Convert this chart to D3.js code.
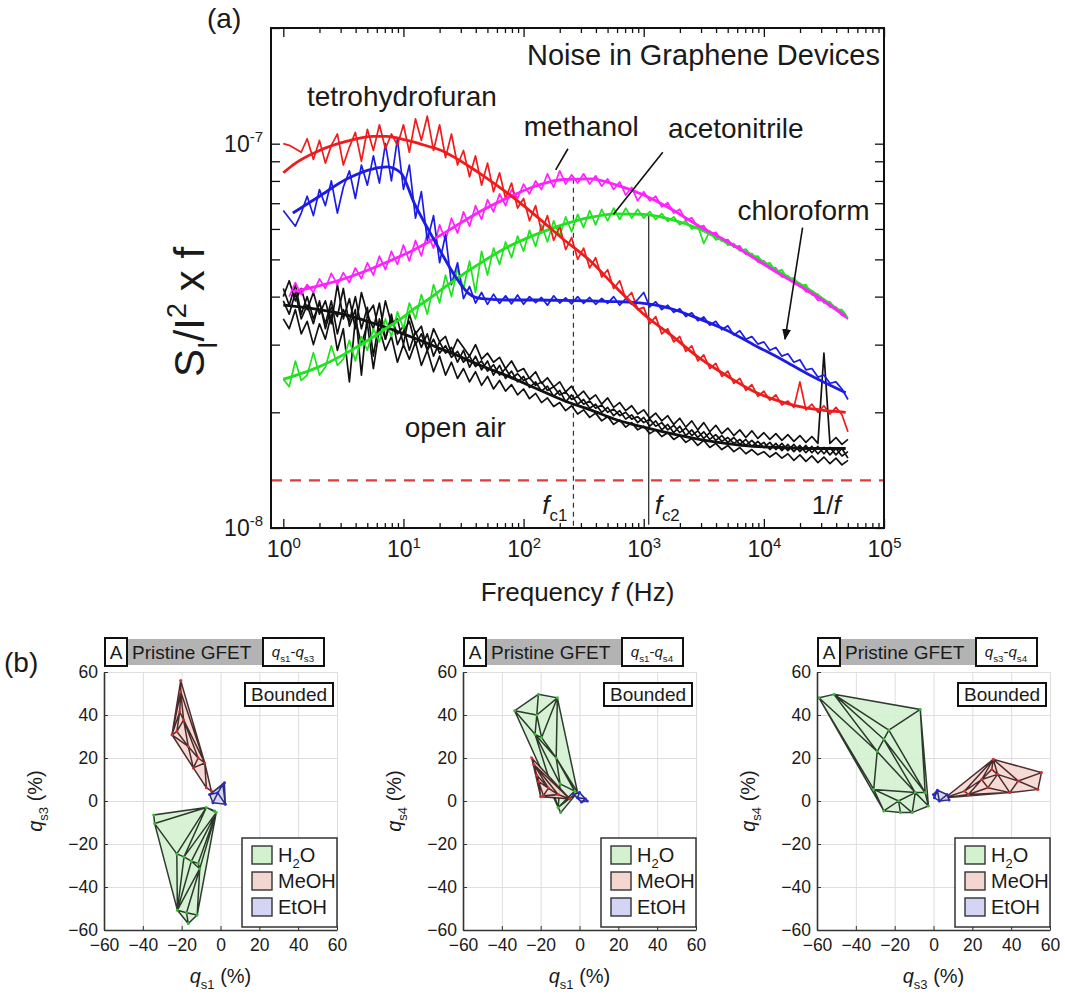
<!DOCTYPE html>
<html>
<head>
<meta charset="utf-8">
<script src="https://d3js.org/d3.v7.min.js"></script>
<style>
  body { margin: 0; background: #fff; }
  svg text { font-family: "Liberation Sans", Arial, sans-serif; fill: #1a1a1a; }
</style>
</head>
<body>
<script>
// ---------- panel (a): noise spectra, values in units of 1e-8 ----------
var freq = [1,1.12,1.26,1.41,1.58,1.78,2,2.24,2.51,2.82,3.16,3.55,3.98,4.47,5.01,5.62,6.31,7.08,7.94,8.91,
  10,11.2,12.6,14.1,15.8,17.8,20,22.4,25.1,28.2,31.6,35.5,39.8,44.7,50.1,56.2,63.1,70.8,79.4,89.1,
  100,112,126,141,158,178,200,224,251,282,316,355,398,447,501,562,631,708,794,891,
  1000,1122,1259,1413,1585,1778,1995,2239,2512,2818,3162,3548,3981,4467,5012,5623,6310,7079,7943,8913,
  10000,11220,12589,14125,15849,17783,19953,22387,25119,28184,31623,35481,39811,44668,50119];

var thf = [10.0,9.9,9.7,9.5,10.3,9.1,10.2,8.9,9.9,10.6,8.8,9.8,10.7,9.0,10.9,9.6,11.2,9.7,10.6,9.9,
  11.2,9.5,11.6,10.2,11.8,9.6,11.2,9.2,10.6,8.8,9.6,8.2,9.3,7.8,8.9,7.5,8.4,7.2,7.9,6.8,
  7.2,6.3,6.9,5.9,6.5,5.6,6.1,5.3,5.7,5.0,5.35,4.75,5.05,4.5,4.7,4.2,4.4,3.95,4.1,3.7,
  3.75,3.4,3.55,3.2,3.3,3.05,3.15,2.88,2.98,2.72,2.82,2.6,2.68,2.48,2.56,2.38,2.45,2.28,2.36,2.2,
  2.27,2.15,2.22,2.09,2.14,2.06,2.4,2.03,2.1,2.0,2.08,1.98,2.06,1.97,1.78];

var chloroform = [6.7,6.4,6.1,6.6,7.3,6.5,7.6,6.9,8.0,6.6,7.7,8.5,7.2,8.8,7.8,9.3,7.9,10.0,8.0,10.3,
  7.6,8.8,6.4,7.5,5.6,6.5,4.9,5.8,4.3,4.9,3.95,4.25,3.85,4.1,3.82,4.06,3.84,4.02,3.83,4.04,
  3.82,4.0,3.86,3.98,3.8,4.02,3.85,3.97,3.83,4.0,3.84,3.98,3.82,3.96,3.84,4.0,3.8,3.95,3.82,3.93,
  4.1,3.76,3.88,3.7,3.8,3.64,3.72,3.55,3.63,3.46,3.54,3.37,3.45,3.28,3.36,3.18,3.26,3.1,3.15,3.01,
  3.05,2.9,2.95,2.8,2.84,2.7,2.74,2.58,2.6,2.47,2.5,2.38,2.4,2.3,2.16];

var methanol = [null,4.0,4.35,4.05,4.3,4.1,4.45,4.2,4.6,4.3,4.62,4.35,4.75,4.45,4.9,4.55,5.1,4.7,5.25,4.85,
  5.45,4.95,5.6,5.1,5.85,5.35,6.15,5.6,6.4,5.85,6.65,6.1,6.9,6.35,7.15,6.65,7.4,6.9,7.6,7.2,
  7.85,7.4,8.0,7.6,8.35,7.7,8.5,7.85,8.3,7.9,8.35,7.85,8.25,7.75,8.1,7.6,7.95,7.35,7.7,7.1,
  7.5,7.1,7.3,6.85,7.02,6.6,6.75,6.32,6.42,6.05,6.12,5.8,5.88,5.58,5.63,5.38,5.42,5.15,5.18,4.92,
  4.96,4.74,4.75,4.5,4.53,4.33,4.33,4.12,4.1,3.91,3.92,3.76,3.76,3.58,3.5];

var acetonitrile = [2.44,2.33,2.72,2.42,2.5,2.86,2.5,2.62,2.98,2.65,2.75,3.08,2.72,3.15,2.9,3.3,3.05,3.5,3.15,3.65,
  3.3,3.85,3.5,4.05,3.6,4.3,3.85,4.55,4.0,4.75,4.2,4.95,4.1,5.25,4.55,5.35,4.85,5.55,5.05,5.75,
  5.25,5.95,5.4,6.15,5.55,6.3,5.75,6.45,5.9,6.55,6.05,6.7,6.15,6.75,6.3,6.8,6.35,6.8,6.4,6.75,
  6.4,6.66,6.35,6.58,6.28,6.45,6.15,6.3,6.0,6.12,5.5,5.92,5.62,5.7,5.44,5.5,5.26,5.32,5.08,5.1,
  4.85,4.9,4.64,4.7,4.44,4.48,4.24,4.3,4.04,4.06,3.85,3.88,3.7,3.7,3.52];

var airA = [4.0,4.4,3.9,4.2,3.7,4.1,3.6,3.9,3.4,4.3,3.5,3.95,3.3,4.1,3.6,3.8,3.2,3.9,3.4,3.5,
  3.0,3.6,3.2,3.35,2.9,3.3,3.05,3.15,2.85,3.1,2.95,2.8,3.0,2.75,2.85,2.7,2.78,2.6,2.72,2.55,
  2.6,2.45,2.55,2.38,2.46,2.33,2.4,2.26,2.34,2.2,2.27,2.16,2.22,2.1,2.18,2.06,2.12,2.02,2.08,1.98,
  2.03,1.93,1.99,1.9,1.96,1.86,1.93,1.83,1.9,1.8,1.88,1.78,1.85,1.76,1.82,1.74,1.8,1.72,1.79,1.71,
  1.77,1.7,1.76,1.69,1.75,1.68,1.74,1.67,1.73,1.66,2.85,1.66,1.72,1.65,1.7];
var airB = [3.9,3.6,4.1,3.5,3.8,3.4,3.9,3.3,3.75,3.55,4.2,3.35,3.7,2.5,3.6,3.3,3.85,3.1,3.5,3.2,
  3.35,2.9,3.25,2.95,3.2,2.8,3.05,2.85,2.95,2.7,2.9,2.62,2.8,2.58,2.72,2.5,2.65,2.45,2.56,2.4,
  2.48,2.32,2.4,2.27,2.34,2.2,2.28,2.13,2.22,2.1,2.16,2.05,2.1,2.0,2.06,1.96,2.02,1.92,1.97,1.88,
  1.94,1.84,1.9,1.8,1.86,1.77,1.84,1.74,1.8,1.72,1.78,1.7,1.75,1.68,1.72,1.66,1.7,1.64,1.69,1.63,
  1.67,1.6,1.66,1.59,1.65,1.58,1.64,1.57,1.63,1.56,1.62,1.55,1.61,1.54,1.58];
var airC = [3.5,3.3,3.7,3.2,3.45,3.0,3.4,3.1,3.6,2.9,3.3,2.4,3.5,3.0,3.4,2.6,3.3,2.9,3.15,2.7,
  3.0,2.75,3.05,2.65,2.9,2.55,2.8,2.5,2.7,2.45,2.6,2.4,2.55,2.35,2.48,2.3,2.42,2.27,2.36,2.22,
  2.3,2.17,2.24,2.12,2.18,2.07,2.12,2.02,2.08,1.98,2.03,1.94,1.99,1.9,1.95,1.86,1.91,1.83,1.88,1.8,
  1.84,1.76,1.8,1.73,1.77,1.7,1.74,1.67,1.71,1.64,1.69,1.62,1.66,1.6,1.64,1.58,1.62,1.56,1.6,1.55,
  1.58,1.53,1.57,1.52,1.56,1.5,1.55,1.49,1.54,1.48,1.53,1.47,1.52,1.46,1.5];
var airD = [4.2,3.8,4.3,3.6,4.0,3.5,3.85,3.4,3.9,3.2,3.7,3.45,4.0,3.3,3.75,2.8,3.5,3.1,3.6,3.0,
  3.25,3.45,3.0,3.2,2.9,3.1,2.85,2.98,2.78,2.88,2.7,2.8,2.63,2.72,2.56,2.66,2.5,2.6,2.45,2.52,
  2.42,2.46,2.35,2.4,2.28,2.33,2.22,2.26,2.16,2.2,2.1,2.14,2.05,2.09,2.0,2.04,1.96,2.0,1.92,1.95,
  1.88,1.92,1.84,1.88,1.8,1.85,1.77,1.82,1.74,1.79,1.71,1.77,1.69,1.74,1.67,1.72,1.65,1.7,1.63,1.68,
  1.62,1.67,1.6,1.66,1.59,1.65,1.58,1.64,1.57,1.63,1.56,1.62,1.55,1.61,1.52];

// fitted curves
var fitFreq = [1,1.2,2,3.4,5.6,7.3,9.5,12.3,16,20.7,26.8,34.8,45,75,126,213,360,600,1000,1700,2900,4800,8200,14000,23000,39000,48000];
var thfFit = [8.4,8.8,9.6,10.15,10.45,10.45,10.3,10.1,9.85,9.6,9.2,8.75,8.3,7.4,6.5,5.65,4.95,4.2,3.6,3.17,2.77,2.5,2.27,2.13,2.05,2.01,2.0];
var chloroformFit = [null,6.6,7.3,8.1,8.6,8.7,8.4,7.0,6.0,5.2,4.53,4.08,3.95,3.92,3.92,3.91,3.9,3.88,3.84,3.72,3.5,3.28,3.0,2.75,2.52,2.32,2.25];
var methanolFit = [null,4.12,4.27,4.48,4.75,4.92,5.1,5.3,5.54,5.8,6.09,6.4,6.7,7.25,7.76,8.07,8.1,7.8,7.35,6.75,6.1,5.6,5.05,4.55,4.15,3.72,3.55];
var acetonitrileFit = [2.44,2.48,2.63,2.86,3.14,3.32,3.5,3.72,3.93,4.17,4.42,4.67,4.92,5.4,5.8,6.16,6.43,6.57,6.55,6.35,6.0,5.55,5.1,4.6,4.2,3.75,3.58];
var airFit = [3.8,3.78,3.7,3.58,3.41,3.32,3.22,3.12,3.02,2.92,2.83,2.73,2.64,2.48,2.31,2.15,2.03,1.91,1.83,1.76,1.70,1.66,1.63,1.62,1.61,1.61,1.61];

var fc1 = 260, fc2 = 1100, floorLevel = 1.33;
var xMajor = [1, 10, 100, 1000, 10000, 100000];
var yMajor = [1, 10];

// ---------- panel (b): bounded PCA scores (%) ----------
var h2oS1S3 = [[-34.4,-6.5],[-33.9,-10.5],[-7.3,-3],[-3,-4.6],[-2.2,-5.4],[-22.5,-24.6],[-18.8,-26],[-11.5,-29],[-10.7,-31.5],[-22.2,-50.8],[-16.6,-57],[-12,-53],[-15,-28],[-17.5,-52]];
var meohS1S3 = [[-20.5,56],[-20.5,50.8],[-25,30.8],[-22.5,32.3],[-16.6,25.4],[-11.5,20],[-8.1,17.7],[-4.7,4.6],[-7.3,6.2],[-14,15.4],[-19,37.7],[-21,41.5]];
var etohS1S3 = [[-5.6,3],[1.2,7.7],[2,8.5],[2.5,-1.5],[-3.9,-0.8],[-1.4,3.8]];
var h2oS1S4 = [[-33.4,42],[-21.2,49.6],[-11.4,48],[-22.9,31],[-19.5,29.5],[-10,8],[-2.5,4.6],[-9.7,-5.4],[-11,-3],[-1,4],[-22,40],[-12,20]];
var meohS1S4 = [[-24.6,20],[-23.5,17],[-21,9],[-20,2],[-18.6,2.5],[-16,6],[-11,3],[-5,1],[-22,12]];
var etohS1S4 = [[-3,3],[0,4],[3,1],[4,0],[1,-0.5],[-1,1.5]];
var h2oS3S4 = [[-59,48],[-51.3,49.6],[-6.8,42.6],[-25.6,28.7],[-23,33],[-30.8,5.4],[-29,23],[-25.6,-4.6],[-17,-5.4],[-11,-5.4],[-4.3,3.9],[-2.6,-2.3],[-18,0],[-9.4,3.9]];
var meohS3S4 = [[6,1.5],[16,4.6],[18,3],[24.8,10],[30.8,19.4],[30,14.7],[39.3,3.9],[43.6,9.3],[55.6,13.2],[53.8,5.4],[33,12.4],[28,6.2]];
var etohS3S4 = [[0,3],[2,5],[7,3],[8,0.5],[3,0],[0.5,1.5]];
var qTicks = [-60, -40, -20, 0, 20, 40, 60];
var solvents = ["H2O", "MeOH", "EtOH"];

// ---------------------------------------------------------------
var svg = d3.select("body").append("svg").attr("width", 1065).attr("height", 995);

// text with italic / sub / sup pieces
function rich(t, parts, size) {
  var shift = 0;
  parts.forEach(function(p) {
    var target = p.k === "sub" ? 0.3 * size : p.k === "sup" ? -0.42 * size : 0;
    var ts = t.append("tspan").text(p.s);
    if (target - shift !== 0) ts.attr("dy", target - shift);
    if (p.k) ts.attr("font-size", 0.65 * size);
    if (p.i) ts.attr("font-style", "italic");
    shift = target;
  });
}

var box = {left: 271, right: 884, top: 28, bottom: 528};
var x = d3.scaleLog().domain([0.79, 1e5]).range([box.left, box.right]);
var y = d3.scaleLog().domain([1, 20]).range([box.bottom, box.top]);

var xMinor = [], yMinor = [];
[1, 10, 100, 1000, 10000].forEach(function(d) { for (var m = 2; m < 10; m++) xMinor.push(d * m); });
[1, 10].forEach(function(d) { for (var m = 2; m < 10; m++) if (d * m <= 20) yMinor.push(d * m); });

var defs = svg.append("defs");
defs.append("clipPath").attr("id", "clipA")
  .append("rect").attr("x", box.left).attr("y", box.top)
  .attr("width", box.right - box.left).attr("height", box.bottom - box.top);
defs.append("marker").attr("id", "arrow").attr("viewBox", "0 0 10 10").attr("refX", 9).attr("refY", 5)
  .attr("markerWidth", 7).attr("markerHeight", 7).attr("orient", "auto")
  .append("path").attr("d", "M0,1L10,5L0,9z").attr("fill", "#111");

var plot = svg.append("g").attr("clip-path", "url(#clipA)");

// red dashed floor
plot.append("line").attr("x1", box.left).attr("x2", box.right)
  .attr("y1", y(floorLevel)).attr("y2", y(floorLevel))
  .attr("stroke", "#e23a3a").attr("stroke-width", 2.2).attr("stroke-dasharray", "11,8");

// corner frequency markers
plot.append("line").attr("x1", x(fc1)).attr("x2", x(fc1)).attr("y1", y(8.1)).attr("y2", box.bottom)
  .attr("stroke", "#333").attr("stroke-width", 1.2).attr("stroke-dasharray", "5,4");
plot.append("line").attr("x1", x(fc2)).attr("x2", x(fc2)).attr("y1", y(6.55)).attr("y2", y(1.02))
  .attr("stroke", "#333").attr("stroke-width", 1.3);

var raw = d3.line().defined(function(d) { return d[1] != null; })
  .x(function(d) { return x(d[0]); }).y(function(d) { return y(d[1]); });
var smooth = d3.line().defined(function(d) { return d[1] != null; })
  .x(function(d) { return x(d[0]); }).y(function(d) { return y(d[1]); })
  .curve(d3.curveMonotoneX);

var spectra = [
  {vals: airA, c: "#111"}, {vals: airB, c: "#111"}, {vals: airC, c: "#111"}, {vals: airD, c: "#111"},
  {vals: acetonitrile, c: "#22e022"}, {vals: methanol, c: "#ff22ff"},
  {vals: chloroform, c: "#1c1ce6"}, {vals: thf, c: "#ee1c1c"}
];
spectra.forEach(function(s) {
  plot.append("path").datum(freq.map(function(f, i) { return [f, s.vals[i]]; }))
    .attr("d", raw).attr("fill", "none").attr("stroke", s.c).attr("stroke-width", 1.7)
    .attr("stroke-linejoin", "round");
});
var fits = [
  {vals: airFit, c: "#111"}, {vals: acetonitrileFit, c: "#22e022"}, {vals: methanolFit, c: "#ff22ff"},
  {vals: chloroformFit, c: "#1c1ce6"}, {vals: thfFit, c: "#ee1c1c"}
];
fits.forEach(function(s) {
  plot.append("path").datum(fitFreq.map(function(f, i) { return [f, s.vals[i]]; }))
    .attr("d", smooth).attr("fill", "none").attr("stroke", s.c).attr("stroke-width", 2.8);
});

// axes with inward ticks, MATLAB style
function major(sel) { sel.select(".domain").remove(); sel.selectAll("line").attr("stroke", "#111").attr("stroke-width", 1.3); }
svg.append("g").attr("transform", "translate(0," + box.bottom + ")")
  .call(d3.axisBottom(x).tickValues(xMajor).tickSize(-9).tickSizeOuter(0).tickPadding(13))
  .call(major)
  .selectAll(".tick text").attr("font-size", 23).attr("fill", "#1a1a1a")
  .each(function(d) { var t = d3.select(this).text(null); rich(t, [{s: "10"}, {s: String(Math.round(Math.log10(d))), k: "sup"}], 23); });
svg.append("g").attr("transform", "translate(0," + box.bottom + ")")
  .call(d3.axisBottom(x).tickValues(xMinor).tickSize(-5).tickSizeOuter(0).tickFormat("")).call(major);
svg.append("g").attr("transform", "translate(0," + box.top + ")")
  .call(d3.axisTop(x).tickValues(xMajor).tickSize(-9).tickSizeOuter(0).tickFormat("")).call(major);
svg.append("g").attr("transform", "translate(0," + box.top + ")")
  .call(d3.axisTop(x).tickValues(xMinor).tickSize(-5).tickSizeOuter(0).tickFormat("")).call(major);
svg.append("g").attr("transform", "translate(" + box.left + ",0)")
  .call(d3.axisLeft(y).tickValues(yMajor).tickSize(-9).tickSizeOuter(0).tickPadding(8))
  .call(major)
  .selectAll(".tick text").attr("font-size", 23).attr("fill", "#1a1a1a")
  .each(function(d) { var t = d3.select(this).text(null); rich(t, [{s: "10"}, {s: String(Math.round(Math.log10(d)) - 8), k: "sup"}], 23); });
svg.append("g").attr("transform", "translate(" + box.left + ",0)")
  .call(d3.axisLeft(y).tickValues(yMinor).tickSize(-9).tickSizeOuter(0).tickFormat("")).call(major);
svg.append("g").attr("transform", "translate(" + box.right + ",0)")
  .call(d3.axisRight(y).tickValues(yMajor.concat(yMinor)).tickSize(-9).tickSizeOuter(0).tickFormat("")).call(major);
svg.append("rect").attr("x", box.left).attr("y", box.top)
  .attr("width", box.right - box.left).attr("height", box.bottom - box.top)
  .attr("fill", "none").attr("stroke", "#111").attr("stroke-width", 2);

// annotations
svg.append("text").attr("x", box.right - 4).attr("y", box.top + 37).attr("text-anchor", "end")
  .attr("font-size", 29).text("Noise in Graphene Devices");
var labels = [
  {t: "tetrohydrofuran", f: 9.7, v: 13.3}, {t: "methanol", f: 302, v: 11.1},
  {t: "acetonitrile", f: 5840, v: 11.0}, {t: "chloroform", f: 21400, v: 6.7}, {t: "open air", f: 27, v: 1.83}
];
labels.forEach(function(l) {
  svg.append("text").attr("x", x(l.f)).attr("y", y(l.v)).attr("dy", "0.35em")
    .attr("text-anchor", "middle").attr("font-size", 28).text(l.t);
});
var pointers = [
  {f1: 234, v1: 9.7, f2: 185, v2: 8.55, head: false},
  {f1: 1440, v1: 9.5, f2: 560, v2: 6.55, head: false},
  {f1: 21000, v1: 6.05, f2: 15000, v2: 3.1, head: true}
];
pointers.forEach(function(p) {
  var l = svg.append("line").attr("x1", x(p.f1)).attr("y1", y(p.v1)).attr("x2", x(p.f2)).attr("y2", y(p.v2))
    .attr("stroke", "#111").attr("stroke-width", 1.6);
  if (p.head) l.attr("marker-end", "url(#arrow)");
});
var tf1 = svg.append("text").attr("x", x(fc1) - 6).attr("y", y(1.09)).attr("text-anchor", "end").attr("font-size", 26);
rich(tf1, [{s: "f", i: true}, {s: "c1", k: "sub"}], 26);
var tf2 = svg.append("text").attr("x", x(fc2) + 6).attr("y", y(1.09)).attr("font-size", 26);
rich(tf2, [{s: "f", i: true}, {s: "c2", k: "sub"}], 26);
var tf3 = svg.append("text").attr("x", x(33000)).attr("y", y(1.09)).attr("text-anchor", "middle").attr("font-size", 26);
rich(tf3, [{s: "1/"}, {s: "f", i: true}], 26);

svg.append("text").attr("x", 207).attr("y", 28).attr("font-size", 28).text("(a)");
var xt = svg.append("text").attr("x", (box.left + box.right) / 2).attr("y", 601)
  .attr("text-anchor", "middle").attr("font-size", 26);
rich(xt, [{s: "Frequency "}, {s: "f", i: true}, {s: " (Hz)"}], 26);
var yt = svg.append("text").attr("transform", "translate(204,312) rotate(-90)")
  .attr("text-anchor", "middle").attr("font-size", 42);
rich(yt, [{s: "S"}, {s: "I", k: "sub"}, {s: "/I"}, {s: "2", k: "sup"}, {s: " x f"}], 42);

// ---------- panel (b) ----------
svg.append("text").attr("x", 4).attr("y", 672).attr("font-size", 28).text("(b)");

var fills = {H2O: "#d3f1cf", MeOH: "#f4d6d1", EtOH: "#d4d4f4"};
var edges = {H2O: "#1a261a", MeOH: "#3a1818", EtOH: "#1a1a70"};
var dots = {H2O: "#2fbf2f", MeOH: "#d43030", EtOH: "#2a2ad0"};

var panels = [
  {left: 104, xs: "1", ys: "3", sets: [h2oS1S3, meohS1S3, etohS1S3]},
  {left: 463, xs: "1", ys: "4", sets: [h2oS1S4, meohS1S4, etohS1S4]},
  {left: 817, xs: "3", ys: "4", sets: [h2oS3S4, meohS3S4, etohS3S4]}
];
var pTop = 672, pBot = 930, pW = 233;
function minus(d) { return d < 0 ? "\u2212" + (-d) : String(d); }

panels.forEach(function(p) {
  var g = svg.append("g");
  var px = d3.scaleLinear().domain([-60, 60]).range([p.left, p.left + pW]);
  var py = d3.scaleLinear().domain([-60, 60]).range([pBot, pTop]);

  g.append("g").attr("transform", "translate(0," + pBot + ")")
    .call(d3.axisBottom(px).tickValues(qTicks).tickSize(-(pBot - pTop)).tickFormat(""))
    .call(function(s) { s.select(".domain").remove(); s.selectAll("line").attr("stroke", "#dedede").attr("stroke-width", 1); });
  g.append("g").attr("transform", "translate(" + p.left + ",0)")
    .call(d3.axisLeft(py).tickValues(qTicks).tickSize(-pW).tickFormat(""))
    .call(function(s) { s.select(".domain").remove(); s.selectAll("line").attr("stroke", "#dedede").attr("stroke-width", 1); });

  p.sets.forEach(function(pts, i) {
    var key = solvents[i];
    var scr = pts.map(function(d) { return [px(d[0]), py(d[1])]; });
    g.append("path").attr("d", "M" + d3.polygonHull(scr).join("L") + "Z")
      .attr("fill", fills[key]).attr("fill-opacity", 0.9).attr("stroke", "none");
    g.append("path").attr("d", d3.Delaunay.from(scr).render())
      .attr("fill", "none").attr("stroke", edges[key]).attr("stroke-width", 1.5).attr("stroke-opacity", 0.9);
    g.selectAll(null).data(scr).enter().append("circle")
      .attr("cx", function(d) { return d[0]; }).attr("cy", function(d) { return d[1]; })
      .attr("r", 1.5).attr("fill", dots[key]);
  });

  g.append("g").attr("transform", "translate(0," + pBot + ")")
    .call(d3.axisBottom(px).tickValues(qTicks).tickSize(-4).tickSizeOuter(0).tickPadding(9).tickFormat(minus))
    .call(function(s) {
      s.select(".domain").attr("stroke", "#333").attr("stroke-width", 1.6);
      s.selectAll("line").attr("stroke", "#333");
      s.selectAll("text").attr("font-size", 17.5).attr("fill", "#222");
    });
  g.append("g").attr("transform", "translate(" + p.left + ",0)")
    .call(d3.axisLeft(py).tickValues(qTicks).tickSize(-4).tickSizeOuter(0).tickPadding(6).tickFormat(minus))
    .call(function(s) {
      s.select(".domain").attr("stroke", "#333").attr("stroke-width", 1.6);
      s.selectAll("line").attr("stroke", "#333");
      s.selectAll("text").attr("font-size", 17.5).attr("fill", "#222");
    });

  // header strip
  g.append("rect").attr("x", p.left + 23).attr("y", 639).attr("width", 135).attr("height", 26).attr("fill", "#b3b3b3");
  g.append("rect").attr("x", p.left + 1).attr("y", 638).attr("width", 22).attr("height", 28)
    .attr("fill", "#fff").attr("stroke", "#111").attr("stroke-width", 2);
  g.append("text").attr("x", p.left + 12).attr("y", 659).attr("text-anchor", "middle").attr("font-size", 19).text("A");
  g.append("text").attr("x", p.left + 28).attr("y", 659).attr("font-size", 19).text("Pristine GFET");
  g.append("rect").attr("x", p.left + 159).attr("y", 638).attr("width", 61).attr("height", 28)
    .attr("fill", "#fff").attr("stroke", "#111").attr("stroke-width", 2);
  var qt = g.append("text").attr("x", p.left + 189).attr("y", 657).attr("text-anchor", "middle").attr("font-size", 15);
  rich(qt, [{s: "q", i: true}, {s: "s" + p.xs, k: "sub"}, {s: "-"}, {s: "q", i: true}, {s: "s" + p.ys, k: "sub"}], 15);

  g.append("rect").attr("x", p.left + 141).attr("y", 683).attr("width", 88).attr("height", 23)
    .attr("fill", "#fff").attr("stroke", "#111").attr("stroke-width", 2);
  g.append("text").attr("x", p.left + 185).attr("y", 701).attr("text-anchor", "middle").attr("font-size", 19).text("Bounded");

  // legend
  g.append("rect").attr("x", p.left + 138).attr("y", 838).attr("width", 95).attr("height", 89)
    .attr("fill", "#fff").attr("stroke", "#333").attr("stroke-width", 1.5);
  solvents.forEach(function(key, i) {
    var cy = 855 + i * 26;
    g.append("rect").attr("x", p.left + 148).attr("y", cy - 9).attr("width", 20).attr("height", 18)
      .attr("fill", fills[key]).attr("stroke", "#333").attr("stroke-width", 1.4);
    var lt = g.append("text").attr("x", p.left + 174).attr("y", cy + 7).attr("font-size", 20);
    if (key === "H2O") rich(lt, [{s: "H"}, {s: "2", k: "sub"}, {s: "O"}], 20);
    else lt.text(key);
  });

  var xl = g.append("text").attr("x", p.left + pW / 2).attr("y", 983).attr("text-anchor", "middle").attr("font-size", 20);
  rich(xl, [{s: "q", i: true}, {s: "s" + p.xs, k: "sub"}, {s: " (%)"}], 20);
  var yl = g.append("text").attr("transform", "translate(" + (p.left - 62) + "," + 801 + ") rotate(-90)")
    .attr("text-anchor", "middle").attr("font-size", 20);
  rich(yl, [{s: "q", i: true}, {s: "s" + p.ys, k: "sub"}, {s: " (%)"}], 20);
});
</script>
</body>
</html>
